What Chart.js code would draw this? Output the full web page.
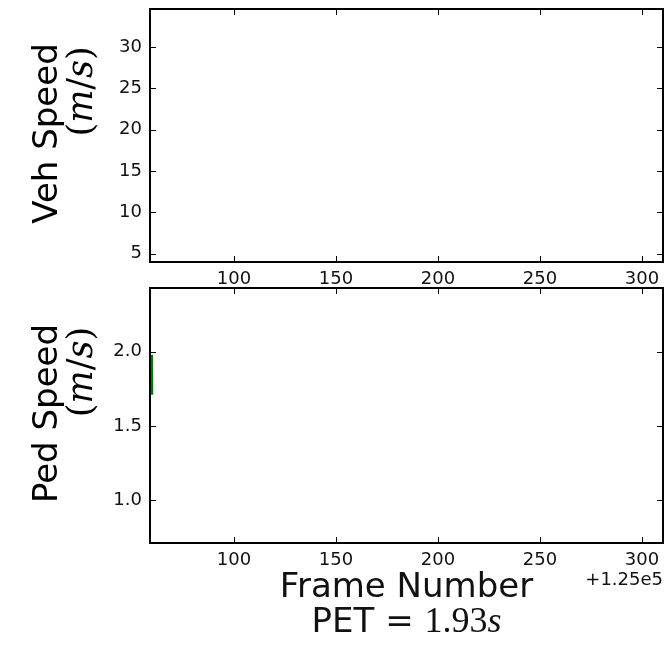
<!DOCTYPE html>
<html>
<head>
<meta charset="utf-8">
<script src="https://cdn.jsdelivr.net/npm/chart.js@4.4.0/dist/chart.umd.min.js"></script>
<style>
  html, body { margin: 0; padding: 0; background: #fff; }
  #wrap { position: relative; width: 667px; height: 646px; }
  #wrap canvas { position: absolute; left: 0; top: 0; }
</style>
</head>
<body>
<div id="wrap">
  <canvas id="vehChart" width="667" height="646"></canvas>
  <canvas id="pedChart" width="667" height="646"></canvas>
</div>
<script>
// frame numbers are shown relative to this offset (+1.25e5)
const frameOffset = 125000;
const frameRange = [125058.8, 125310.3];
const frameTicks = [125100, 125150, 125200, 125250, 125300];

// vehicle speed: nothing plotted in this window
const vehFrames = [];
const vehSpeeds = [];
const vehRange = [4.0, 34.6];
const vehTicks = [5, 10, 15, 20, 25, 30];

// pedestrian speed: short trace at the left edge
const pedFrames = [125059.7, 125059.8];
const pedSpeeds = [1.98, 1.71];
const pedRange = [0.71, 2.43];
const pedTicks = [1.0, 1.5, 2.0];

Chart.defaults.font.family = '"DejaVu Sans", sans-serif';
Chart.defaults.color = '#111';

const SANS = '"DejaVu Sans"';
const SERIF = '"DejaVu Serif"';
const TIMES = '"Liberation Serif"';

const drawRuns = (ctx, runs, x, y, align) => {
  let total = 0;
  runs.forEach(r => { ctx.font = r.font; r.w = ctx.measureText(r.text).width; total += r.w; });
  let cx = align === 'right' ? x - total : align === 'center' ? x - total / 2 : x;
  ctx.textAlign = 'left';
  ctx.textBaseline = 'alphabetic';
  runs.forEach(r => { ctx.font = r.font; ctx.fillText(r.text, cx, y); cx += r.w; });
  return total;
}

const unitRuns = () => [
  { text: '(', font: `35px ${SERIF}` },
  { text: 'm', font: `italic 35px ${SERIF}` },
  { text: '/', font: `35px ${SERIF}` },
  { text: 's', font: `italic 35px ${SERIF}` },
  { text: ')', font: `35px ${SERIF}` }
];

const framePlugin = {
  id: 'frame',
  afterDraw(chart, args, opts) {
    const { ctx, chartArea: a, scales } = chart;
    ctx.save();
    // inward ticks on all four sides
    ctx.strokeStyle = '#000';
    ctx.lineWidth = 1;
    ctx.beginPath();
    scales.x.ticks.forEach(t => {
      const px = Math.round(scales.x.getPixelForValue(t.value)) + 0.5;
      ctx.moveTo(px, a.bottom); ctx.lineTo(px, a.bottom - 6);
      ctx.moveTo(px, a.top); ctx.lineTo(px, a.top + 6);
    });
    scales.y.ticks.forEach(t => {
      const py = Math.round(scales.y.getPixelForValue(t.value)) + 0.5;
      ctx.moveTo(a.left, py); ctx.lineTo(a.left + 6, py);
      ctx.moveTo(a.right, py); ctx.lineTo(a.right - 6, py);
    });
    ctx.stroke();
    ctx.lineWidth = 2;
    ctx.strokeRect(a.left, a.top, a.right - a.left, a.bottom - a.top);

    // rotated two-line y label
    ctx.fillStyle = '#000';
    const cy = (a.top + a.bottom) / 2;
    ctx.translate(0, cy);
    ctx.rotate(-Math.PI / 2);
    ctx.font = `34px ${SANS}`;
    const L = ctx.measureText(opts.label).width;
    drawRuns(ctx, [{ text: opts.label, font: `34px ${SANS}` }], L / 2 + 2, 57, 'right');
    drawRuns(ctx, unitRuns(), L / 2 - 1, 91.5, 'right');
    ctx.setTransform(1, 0, 0, 1, 0, 0);

    if (opts.footer) {
      const mid = (a.left + a.right) / 2;
      ctx.font = `18px ${SANS}`;
      ctx.textAlign = 'right';
      ctx.fillStyle = '#111';
      ctx.fillText('+1.25e5', a.right, 585);
      drawRuns(ctx, [{ text: 'Frame Number', font: `34px ${SANS}` }], mid, 597, 'center');
      drawRuns(ctx, [
        { text: 'PET = ', font: `34px ${SANS}` },
        { text: '1.93', font: `36px ${TIMES}` },
        { text: 's', font: `italic 36px ${TIMES}` }
      ], mid, 632, 'center');
    }
    ctx.restore();
  }
};

const makeChart = (id, frames, speeds, yRange, yTicks, yFmt, top, bottom, label, footer) => new Chart(id, {
  type: 'line',
  data: {
    datasets: [{
      data: frames.map((f, i) => ({ x: f, y: speeds[i] })),
      borderColor: '#008000',
      borderWidth: 2.5,
      pointRadius: 0,
      fill: false
    }]
  },
  options: {
    responsive: false,
    animation: false,
    layout: { padding: { top: top, right: 4, bottom: bottom, left: 0 } },
    plugins: {
      legend: { display: false },
      tooltip: { enabled: false },
      frame: { label: label, footer: footer }
    },
    scales: {
      x: {
        type: 'linear',
        min: frameRange[0],
        max: frameRange[1],
        grid: { display: false, drawTicks: false },
        border: { display: false },
        afterBuildTicks: axis => { axis.ticks = frameTicks.map(v => ({ value: v })); },
        afterFit: axis => { axis.height = 40; axis.paddingLeft = 0; axis.paddingRight = 0; },
        ticks: {
          font: { size: 18 },
          padding: 7,
          maxRotation: 0,
          callback: v => String(Math.round(v - frameOffset))
        }
      },
      y: {
        type: 'linear',
        min: yRange[0],
        max: yRange[1],
        grid: { display: false, drawTicks: false },
        border: { display: false },
        afterBuildTicks: axis => { axis.ticks = yTicks.map(v => ({ value: v })); },
        afterFit: axis => { axis.width = 150; axis.paddingTop = 0; axis.paddingBottom = 0; },
        ticks: { font: { size: 18 }, padding: 8, callback: yFmt }
      }
    }
  },
  plugins: [framePlugin]
});

makeChart('vehChart', vehFrames, vehSpeeds, vehRange, vehTicks, v => String(v), 9, 344, 'Veh Speed', false);
makeChart('pedChart', pedFrames, pedSpeeds, pedRange, pedTicks, v => v.toFixed(1), 288, 63, 'Ped Speed', true);
</script>
</body>
</html>
